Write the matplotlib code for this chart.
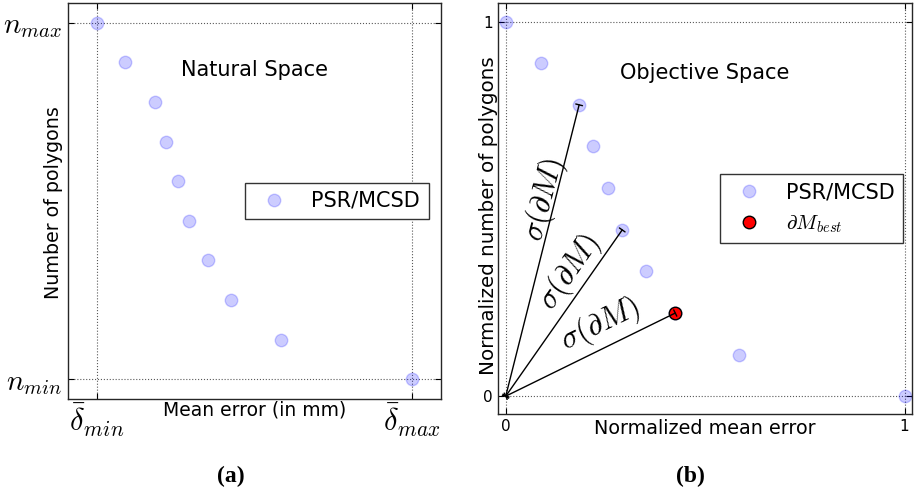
import matplotlib
matplotlib.use('Agg')
import matplotlib.pyplot as plt

plt.rcParams['mathtext.fontset'] = 'cm'
plt.rcParams['font.family'] = 'DejaVu Sans'

# normalized values
err_norm = [0.0, 0.089, 0.184, 0.219, 0.257, 0.292, 0.352, 0.425, 0.584, 1.0]
poly_norm = [1.0, 0.889, 0.778, 0.667, 0.556, 0.444, 0.333, 0.222, 0.111, 0.0]
best_idx = 7
sigma_idx = [2, 5, 7]
x_ticklabels_a = [r'$\bar{\delta}_{min}$', r'$\bar{\delta}_{max}$']
y_ticklabels_a = [r'$n_{min}$', r'$n_{max}$']

fig = plt.figure(figsize=(9.15, 4.96), dpi=100)
ax1 = fig.add_axes([0.0743, 0.1956, 0.4077, 0.7984])
ax2 = fig.add_axes([0.544, 0.165, 0.4525, 0.829])

pt_style = dict(linestyle='none', marker='o', color='blue', alpha=0.2,
                markersize=9, markeredgewidth=1)

def style_axes(ax):
    ax.grid(True, color='0.35', linestyle=':', linewidth=0.8)
    ax.tick_params(direction='in', top=True, right=True, length=4, width=0.8)
    for s in ax.spines.values():
        s.set_linewidth(1.0)
        s.set_color('0.15')

# (a) natural space
ax1.plot(err_norm, poly_norm, label='PSR/MCSD', **pt_style)
ax1.set_xlim(-0.092, 1.092)
ax1.set_ylim(-0.056, 1.056)
ax1.set_xticks([0, 1])
ax1.set_xticklabels(x_ticklabels_a, fontsize=22)
ax1.set_yticks([0, 1])
ax1.set_yticklabels(y_ticklabels_a, fontsize=21)
ax1.tick_params(axis='x', pad=2)
ax1.tick_params(axis='y', pad=4)
style_axes(ax1)
ax1.set_xlabel('Mean error (in mm)', fontsize=13.5)
ax1.xaxis.set_label_coords(0.5, -0.028)
ax1.xaxis.label.set_va('center')
ax1.set_ylabel('Number of polygons', fontsize=13.7)
ax1.yaxis.set_label_coords(-0.038, 0.495)
ax1.yaxis.label.set_va('center')
ax1.text(0.5, 0.868, 'Natural Space', fontsize=15, ha='center', va='center')
ax1.legend(loc='center right', numpoints=1, fontsize=15, fancybox=False,
           edgecolor='0.2', framealpha=1, borderaxespad=0.6)

# (b) objective space
ax2.plot(err_norm, poly_norm, label='PSR/MCSD', **pt_style)
ax2.plot([err_norm[best_idx]], [poly_norm[best_idx]], linestyle='none', marker='o',
         color='red', markeredgecolor='black', markersize=9, markeredgewidth=1,
         label=r'$\partial M_{best}$')
for i in sigma_idx:
    ax2.annotate('', xy=(err_norm[i], poly_norm[i]), xytext=(0, 0),
                 arrowprops=dict(arrowstyle='|-|,widthA=0.25,widthB=0.25',
                                 lw=1, color='black', shrinkA=0, shrinkB=0,
                                 mutation_scale=10))
ax2.text(0.098, 0.524, r'$\sigma(\partial M)$', fontsize=22, rotation=75.5,
         ha='center', va='center')
ax2.text(0.16, 0.33, r'$\sigma(\partial M)$', fontsize=22, rotation=55,
         ha='center', va='center')
ax2.text(0.236, 0.19, r'$\sigma(\partial M)$', fontsize=22, rotation=26,
         ha='center', va='center')
ax2.set_xlim(-0.02, 1.018)
ax2.set_ylim(-0.048, 1.05)
ax2.set_xticks([0, 1])
ax2.set_yticks([0, 1])
ax2.tick_params(labelsize=11)
style_axes(ax2)
ax2.set_xlabel('Normalized mean error', fontsize=13.8)
ax2.xaxis.set_label_coords(0.5, -0.034)
ax2.xaxis.label.set_va('center')
ax2.set_ylabel('Normalized number of polygons', fontsize=14.3)
ax2.yaxis.set_label_coords(-0.022, 0.484)
ax2.yaxis.label.set_va('center')
ax2.text(0.5, 0.864, 'Objective Space', fontsize=15, ha='center', va='center')
ax2.legend(loc='center right', numpoints=1, fontsize=15, fancybox=False,
           edgecolor='0.2', framealpha=1, borderaxespad=0.4)

fig.text(231 / 915, 1 - 476 / 496, '(a)', fontsize=17, fontweight='bold',
         family='Liberation Serif', ha='center', va='center')
fig.text(690 / 915, 1 - 476 / 496, '(b)', fontsize=17, fontweight='bold',
         family='Liberation Serif', ha='center', va='center')

fig.savefig('out.png', dpi=100)
